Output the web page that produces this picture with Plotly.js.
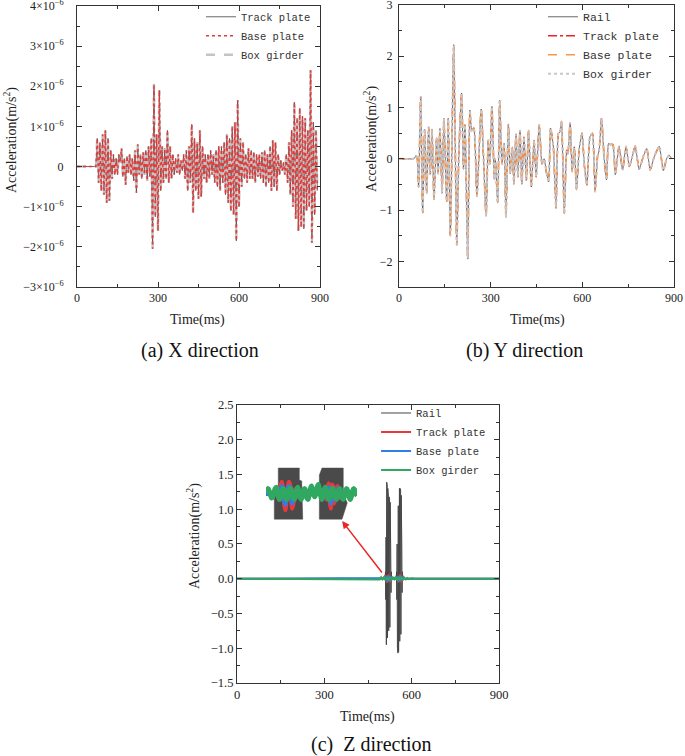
<!DOCTYPE html>
<html>
<head>
<meta charset="utf-8">
<script src="https://cdn.plot.ly/plotly-3.0.1.min.js"></script>
<style>
  html, body { margin: 0; padding: 0; background: #fff; }
  #chart { width: 685px; height: 756px; }
</style>
</head>
<body>
<div id="chart"></div>
<script>
// ---- (a) X direction, values in units of 1e-6 m/s^2, sampled every 5 ms from 0 ms
const aStart = 0;
const aStep = 5;
const aAccel = [
  0, 0, 0, 0, 0, 0, 0, 0, 0, 0,
  0, 0, 0, 0, 0, 0.7, -0.4, 0.6, -0.6, 0.8,
  -0.7, 0.9, -0.9, 0.7, -0.85, 0.4, -0.3, 0.3, -0.2, 0.2,
  -0.2, 0.3, 0.1, 0.45, -0.25, 0.2, -0.45, 0.25, -0.15, 0.3,
  -0.2, 0.2, -0.35, 0.4, -0.65, 0.55, -0.2, 0.3, -0.3, 0.35,
  -0.2, 0.4, -0.35, 0.5, -0.25, 0.7, -2.05, 2.05, -1.25, 0.8,
  -1.6, 1.9, -0.6, 0.5, -0.4, 0.45, -0.3, 0.9, -0.4, 0.5,
  -0.3, 0.3, -0.2, 0.2, -0.15, 0.3, -0.2, 0.15, -0.1, 0.3,
  -0.3, 0.4, -0.6, 0.5, -0.4, 1.05, -1.15, 0.7, -0.6, 0.6,
  -0.8, 0.9, -0.75, 0.5, -0.3, 0.3, -0.4, 0.3, -0.3, 0.4,
  -0.2, 0.3, -0.4, 0.4, -0.5, 0.5, -0.6, 0.5, -0.4, 0.6,
  -0.7, 0.8, -0.9, 0.7, -1.1, 1.0, -1.2, 1.1, -1.85, 1.65,
  -1.0, 0.7, -0.5, 0.6, -0.3, 0.3, -0.4, 0.45, -0.3, 0.4,
  -0.3, 0.35, -0.4, 0.3, -0.25, 0.3, -0.3, 0.35, -0.4, 0.4,
  -0.5, 0.3, -0.4, 0.5, -0.6, 0.65, -0.5, 0.6, -0.6, 0.3,
  -0.2, 0.15, -0.1, 0.1, -0.2, 0.3, -0.4, 0.6, -0.7, 0.9,
  -1.0, 1.6, -1.3, 1.2, -1.6, 1.45, -1.5, 1.25, -1.55, 1.2,
  -1.1, 0.9, -1.0, 2.4, -1.9, 1.1, -1.2, 0.9, -0.6
];
const aTickVals = [-3, -2, -1, 0, 1, 2, 3, 4];
const aTickText = [
  "\u22123\u00d710<sup>\u22126</sup>", "\u22122\u00d710<sup>\u22126</sup>",
  "\u22121\u00d710<sup>\u22126</sup>", "0",
  "1\u00d710<sup>\u22126</sup>", "2\u00d710<sup>\u22126</sup>",
  "3\u00d710<sup>\u22126</sup>", "4\u00d710<sup>\u22126</sup>"
];

// ---- (b) Y direction, local peaks (ms, m/s^2)
const bTime = [
  0, 45, 52, 56, 60, 64, 71, 77.5, 84, 90.5,
  97, 102.5, 108, 114.5, 123, 128, 134, 141, 147, 156,
  161, 168, 179, 189, 196, 205, 211, 216, 225, 232,
  238, 245, 255, 269, 285, 292, 297, 304, 312, 315,
  323, 329.5, 337, 344, 350, 358, 364, 371, 376, 383,
  389, 396, 402, 409, 417, 424, 433, 442, 449, 459,
  468, 475, 483, 490, 496, 505, 514, 522, 527, 532,
  541, 549, 553, 560, 567, 574, 581, 590, 599, 607,
  615, 625, 633, 642, 650, 655, 663, 671, 679, 686,
  692, 700, 708, 720, 732, 743, 754, 764, 773, 786,
  800, 811, 822, 836, 852, 865, 876, 884, 892
];
const bAccel = [
  0, 0, 0.02, 0.06, 0, -0.55, 1.21, -1.05, 0.57, -0.67,
  0.62, -0.3, 0.57, -0.79, 0.4, -0.29, 0.59, -0.67, 0.79, -0.83,
  0.79, -1.5, 2.22, -1.68, 0.14, 1.28, -0.2, 0.66, -1.95, 0.95,
  0.55, 0.6, -0.73, 0.97, -1.12, 0.36, -0.1, 1.02, -0.4, 0.0,
  -0.85, 1.14, -0.1, 0.3, -1.14, 0.67, -0.29, 0.22, -0.49, 0.48,
  -0.35, 0.55, -0.49, 0.42, -0.42, 0.55, -0.55, 0.36, -0.35, 0.66,
  -0.1, 0.0, -0.28, -0.45, 0.6, 0.25, -0.96, 0.5, 0.52, 0.73,
  -1.06, 0.17, 0.1, 0.7, -0.25, 0.23, -0.6, 0.2, 0.5, -0.15,
  -0.51, 0.43, 0.5, -0.64, 0.05, 0.16, 0.79, 0.05, -0.41, 0.3,
  0.28, 0.28, -0.31, 0.24, -0.21, 0.24, -0.15, 0.05, 0.25, -0.2,
  0.05, 0.2, -0.22, 0.05, 0.24, -0.23, 0.0, 0.07, 0.0
];

// ---- (c) Z direction
const cRailTime = [
  0, 505, 509,
  510, 511, 512, 513, 514, 515, 516, 517, 518, 519, 520,
  521, 522, 523, 524, 525, 526, 527, 528, 529, 530,
  531, 547,
  548, 549, 550, 551, 552, 553, 554, 555, 556, 557, 558,
  559, 560, 561, 562, 563, 564, 565, 566, 567, 568, 569,
  575, 900
];
const cRail = [
  0, 0, 0.02,
  0.1, -0.3, 0.6, -0.95, 1.39, -0.9, 1.35, -0.85, 1.3, -0.8, 1.18,
  -0.75, 1.18, -0.72, 1.15, -0.7, 1.1, -0.5, 0.4, -0.2, 0.1,
  0.02, 0.02,
  0.1, -0.3, 0.5, -1.0, 1.03, -1.07, 1.05, -1.05, 1.02, -1.0, 1.3,
  -0.9, 1.3, -0.85, 1.28, -0.8, 1.2, -0.6, 0.5, -0.2, 0.1, 0,
  0, 0
];
const cTime = [0, 480, 490, 495, 500, 505, 510, 515, 520, 525, 530, 535, 540,
  545, 550, 555, 560, 565, 570, 575, 580, 585, 590, 600, 610, 900];
const cTrack = [0, 0, 0, 0, 0, 0.02, 0.05, -0.06, 0.06, -0.05, 0.03, 0, 0,
  0, 0.03, -0.05, 0.06, -0.05, 0.04, 0, 0, 0, 0, 0, 0, 0];
const cBase = [0, 0, 0, 0, 0, 0.01, 0.04, -0.04, 0.04, -0.03, 0.02, 0, 0,
  0, 0.02, -0.04, 0.04, -0.03, 0.02, 0, 0, 0, 0, 0, 0, 0];
const cBox = [0, 0, -0.01, 0.02, -0.01, 0.015, -0.02, 0.02, -0.015, 0.02, -0.02, 0.015, -0.01,
  0.02, -0.02, 0.015, -0.02, 0.02, -0.015, 0.01, -0.01, 0.01, -0.005, 0.005, 0, 0];

// ---- (c) zoomed inset around the two wheel passes, 1 ms steps from 505 ms
const insetStart = 505;
const insetStep = 1;
// rail is far off-scale in the zoom: outline of the clipped blocks
const insetRailT = [515.8, 534.3, 534.3, 536.4, 537.3, 512.3, 512.3, 515.8, 515.8, null,
  551.9, 554.2, 572.9, 572.9, 576.4, 571.8, 551.9, 551.9];
const insetRailV = [0.96, 0.96, 0.52, 0.48, -0.93, -0.93, 0.04, 0.07, 0.96, null,
  0.70, 0.96, 0.96, 0.04, -0.33, -0.93, -0.93, 0.70];
const insetTrack = [
  0, 0, 0, 0, 0, 0, 0, 0,
  0.1, 0.2, 0.1, -0.2, 0.1, 0.35, 0.45, 0.2, -0.4, -0.6, -0.3, 0.2, 0.45,
  0.4, -0.2, -0.55, -0.4, 0.0, 0.2, 0.1, -0.1, 0.05, 0.1, 0, 0,
  0, 0, 0, 0, 0, 0, 0, 0, 0, 0, 0, 0, 0, 0,
  0.05, 0.1, -0.1, 0.0, 0.15, 0.1, -0.2, 0.2, 0.4, -0.3, -0.55, 0.35,
  0.3, -0.35, -0.1, 0.2, 0.3, 0.05, -0.15, 0.05, 0.1, 0, 0, 0,
  0, 0, 0, 0, 0, 0, 0, 0, 0, 0
];
const insetBase = [
  0, 0, 0, 0, 0, 0, 0, 0,
  0.05, 0.1, 0.05, -0.1, 0.05, 0.2, 0.3, 0.1, -0.25, -0.4, -0.2, 0.1, 0.3,
  0.25, -0.1, -0.35, -0.25, 0, 0.1, 0.05, -0.05, 0, 0.05, 0, 0,
  0, 0, 0, 0, 0, 0, 0, 0, 0, 0, 0, 0, 0, 0,
  0, 0.05, -0.05, 0, 0.1, 0.05, -0.1, 0.1, 0.25, -0.2, -0.35, 0.2,
  0.2, -0.2, -0.05, 0.1, 0.2, 0, -0.1, 0, 0.05, 0, 0, 0,
  0, 0, 0, 0, 0, 0, 0, 0, 0, 0
];
const insetBox = [
  0.05, 0.15, 0.2, 0.1, -0.05, -0.15, -0.1, 0.05, 0.2, 0.25,
  0.1, -0.1, -0.2, -0.1, 0.1, 0.2, 0.15, -0.05, -0.2, -0.15,
  0.05, 0.2, 0.2, 0.0, -0.15, -0.2, 0.0, 0.15, 0.25, 0.1,
  -0.1, -0.2, -0.05, 0.15, 0.2, 0.05, -0.15, -0.2, 0.0, 0.2,
  0.3, 0.15, -0.05, -0.1, 0.05, 0.25, 0.35, 0.2, -0.05, -0.2,
  -0.1, 0.1, 0.25, 0.15, -0.05, -0.2, -0.15, 0.05, 0.2, 0.2,
  0.0, -0.15, -0.2, 0.0, 0.15, 0.2, 0.05, -0.15, -0.2, -0.05,
  0.15, 0.2, 0.1, -0.1, -0.2, -0.1, 0.1, 0.2, 0.15, 0.0,
  -0.05
];

const serif = "'Liberation Serif', 'Times New Roman', serif";
const mono = "'Liberation Mono', 'DejaVu Sans Mono', monospace";
const ink = "#222";

function frameAxis(extra) {
  return Object.assign({
    showline: true,
    linecolor: "#333",
    linewidth: 1,
    mirror: "ticks",
    ticks: "inside",
    ticklen: 5,
    tickcolor: "#333",
    showgrid: false,
    zeroline: false,
    ticklabeloverflow: "allow",
    tickfont: { family: serif, size: 12, color: ink },
    fixedrange: true,
  }, extra);
}

const traces = [
  // (a)
  { x0: aStart, dx: aStep, y: aAccel, type: "scatter", mode: "lines", name: "Track plate",
    xaxis: "x", yaxis: "y", legend: "legend", legendrank: 1,
    line: { color: "#444", width: 0.8 } },
  { x0: aStart, dx: aStep, y: aAccel, type: "scatter", mode: "lines", name: "Box girder",
    xaxis: "x", yaxis: "y", legend: "legend", legendrank: 3,
    line: { color: "#c4c4c4", width: 2.5, dash: "dash" } },
  { x0: aStart, dx: aStep, y: aAccel, type: "scatter", mode: "lines", name: "Base plate",
    xaxis: "x", yaxis: "y", legend: "legend", legendrank: 2,
    line: { color: "#e03a3a", width: 1.5, dash: "dot" } },

  // (b)
  { x: bTime, y: bAccel, type: "scatter", mode: "lines", name: "Rail",
    xaxis: "x2", yaxis: "y2", legend: "legend2",
    line: { color: "#444", width: 0.8, shape: "spline", smoothing: 0.5 } },
  { x: bTime, y: bAccel, type: "scatter", mode: "lines", name: "Track plate",
    xaxis: "x2", yaxis: "y2", legend: "legend2",
    line: { color: "#e8262a", width: 1.4, dash: "dashdot", shape: "spline", smoothing: 0.5 } },
  { x: bTime, y: bAccel, type: "scatter", mode: "lines", name: "Base plate",
    xaxis: "x2", yaxis: "y2", legend: "legend2",
    line: { color: "#f39a4a", width: 1.6, dash: "dash", shape: "spline", smoothing: 0.5 } },
  { x: bTime, y: bAccel, type: "scatter", mode: "lines", name: "Box girder",
    xaxis: "x2", yaxis: "y2", legend: "legend2",
    line: { color: "#c8c8c8", width: 2, dash: "dot", shape: "spline", smoothing: 0.5 } },

  // (c)
  { x: cRailTime, y: cRail, type: "scatter", mode: "lines", name: "Rail",
    xaxis: "x3", yaxis: "y3", legend: "legend3",
    line: { color: "#454545", width: 1 } },
  { x: cTime, y: cTrack, type: "scatter", mode: "lines", name: "Track plate",
    xaxis: "x3", yaxis: "y3", legend: "legend3",
    line: { color: "#e8383c", width: 2 } },
  { x: cTime, y: cBase, type: "scatter", mode: "lines", name: "Base plate",
    xaxis: "x3", yaxis: "y3", legend: "legend3",
    line: { color: "#2f7ee6", width: 2 } },
  { x: cTime, y: cBox, type: "scatter", mode: "lines", name: "Box girder",
    xaxis: "x3", yaxis: "y3", legend: "legend3",
    line: { color: "#30a862", width: 2 } },

  // (c) inset
  { x: insetRailT, y: insetRailV, type: "scatter", mode: "lines", fill: "toself",
    fillcolor: "#4a4a4a", line: { color: "#4a4a4a", width: 0.5 },
    xaxis: "x4", yaxis: "y4", showlegend: false, hoverinfo: "skip" },
  { x0: insetStart, dx: insetStep, y: insetTrack, type: "scatter", mode: "lines",
    line: { color: "#e8383c", width: 4, shape: "spline" },
    xaxis: "x4", yaxis: "y4", showlegend: false, hoverinfo: "skip" },
  { x0: insetStart, dx: insetStep, y: insetBase, type: "scatter", mode: "lines",
    line: { color: "#2f7ee6", width: 4, shape: "spline" },
    xaxis: "x4", yaxis: "y4", showlegend: false, hoverinfo: "skip" },
  { x0: insetStart, dx: insetStep, y: insetBox, type: "scatter", mode: "lines",
    line: { color: "#30a862", width: 5, shape: "spline" },
    xaxis: "x4", yaxis: "y4", showlegend: false, hoverinfo: "skip" },
];

const accelTitle = "Acceleration(m/s<sup>2</sup>)";
const timeTitle = "Time(ms)";
const titleFont = { family: serif, size: 14, color: ink };
const captionFont = { family: serif, size: 20, color: "#111" };
const minorX = { ticks: "inside", ticklen: 3, dtick: 150, tickcolor: "#333" };

// axis titles and captions are placed as paper annotations
function label(text, x, y, font, angle) {
  return { text: text, xref: "paper", yref: "paper", x: x, y: y,
    xanchor: "center", yanchor: "middle", showarrow: false,
    textangle: angle || 0, font: font };
}

const layout = {
  width: 685,
  height: 756,
  margin: { l: 0, r: 0, t: 0, b: 0 },
  font: { family: serif, size: 12, color: ink },
  paper_bgcolor: "#fff",
  plot_bgcolor: "rgba(0,0,0,0)",
  showlegend: true,

  xaxis: frameAxis({ domain: [0.1124, 0.4672], anchor: "y", range: [0, 900],
    tick0: 0, dtick: 300, minor: minorX }),
  yaxis: frameAxis({ domain: [0.6204, 0.9921], anchor: "x", range: [-3, 4],
    tickmode: "array", tickvals: aTickVals, ticktext: aTickText, ticklabelstandoff: 10,
    minor: { ticks: "inside", ticklen: 3, dtick: 0.5, tickcolor: "#333" } }),

  xaxis2: frameAxis({ domain: [0.5825, 0.9839], anchor: "y2", range: [0, 900],
    tick0: 0, dtick: 300, minor: minorX }),
  yaxis2: frameAxis({ domain: [0.6204, 0.9934], anchor: "x2", range: [-2.5, 3],
    tick0: 0, dtick: 1, ticklabelstandoff: 3,
    minor: { ticks: "inside", ticklen: 3, dtick: 0.5, tickcolor: "#333" } }),

  xaxis3: frameAxis({ domain: [0.3460, 0.7285], anchor: "y3", range: [0, 900],
    tick0: 0, dtick: 300, minor: minorX,
    tickfont: { family: serif, size: 12.5, color: ink } }),
  yaxis3: frameAxis({ domain: [0.0966, 0.4643], anchor: "x3", range: [-1.5, 2.5],
    tick0: 0, dtick: 0.5, tickformat: ".1f",
    minor: { ticks: "inside", ticklen: 3, dtick: 0.25, tickcolor: "#333" },
    tickfont: { family: serif, size: 12.5, color: ink } }),

  xaxis4: { domain: [0.3883, 0.5212], anchor: "y4", range: [505, 585], visible: false, fixedrange: true },
  yaxis4: { domain: [0.3108, 0.3823], anchor: "x4", range: [-1, 1], visible: false, fixedrange: true },

  legend: { x: 0.2934, y: 0.997, xanchor: "left", yanchor: "top", bgcolor: "rgba(0,0,0,0)",
    font: { family: mono, size: 10.5, color: "#333" }, tracegroupgap: 0 },
  legend2: { x: 0.7927, y: 0.997, xanchor: "left", yanchor: "top", bgcolor: "rgba(0,0,0,0)",
    font: { family: mono, size: 11.5, color: "#333" }, tracegroupgap: 0 },
  legend3: { x: 0.549, y: 0.4729, xanchor: "left", yanchor: "top", bgcolor: "rgba(0,0,0,0)",
    font: { family: mono, size: 10.5, color: "#333" }, tracegroupgap: 0 },

  annotations: [
    label(timeTitle, 0.289, 0.5767, titleFont),
    label(timeTitle, 0.784, 0.5767, titleFont),
    label(timeTitle, 0.5358, 0.0516, titleFont),
    label(accelTitle, 0.0146, 0.8148, titleFont, -90),
    label(accelTitle, 0.540, 0.8161, titleFont, -90),
    label(accelTitle, 0.2818, 0.291, titleFont, -90),
    label("(a) X direction", 0.292, 0.537, captionFont),
    label("(b) Y direction", 0.766, 0.537, captionFont),
    label("(c)  Z direction", 0.543, 0.0146, captionFont),
    { text: "", xref: "x3", yref: "y3", x: 361, y: 0.83, ax: 41, ay: 53,
      showarrow: true, arrowhead: 2, arrowsize: 1, arrowwidth: 1.5, arrowcolor: "#e8262a" },
  ],
};

Plotly.newPlot("chart", traces, layout, { displayModeBar: false, staticPlot: true });
</script>
</body>
</html>
